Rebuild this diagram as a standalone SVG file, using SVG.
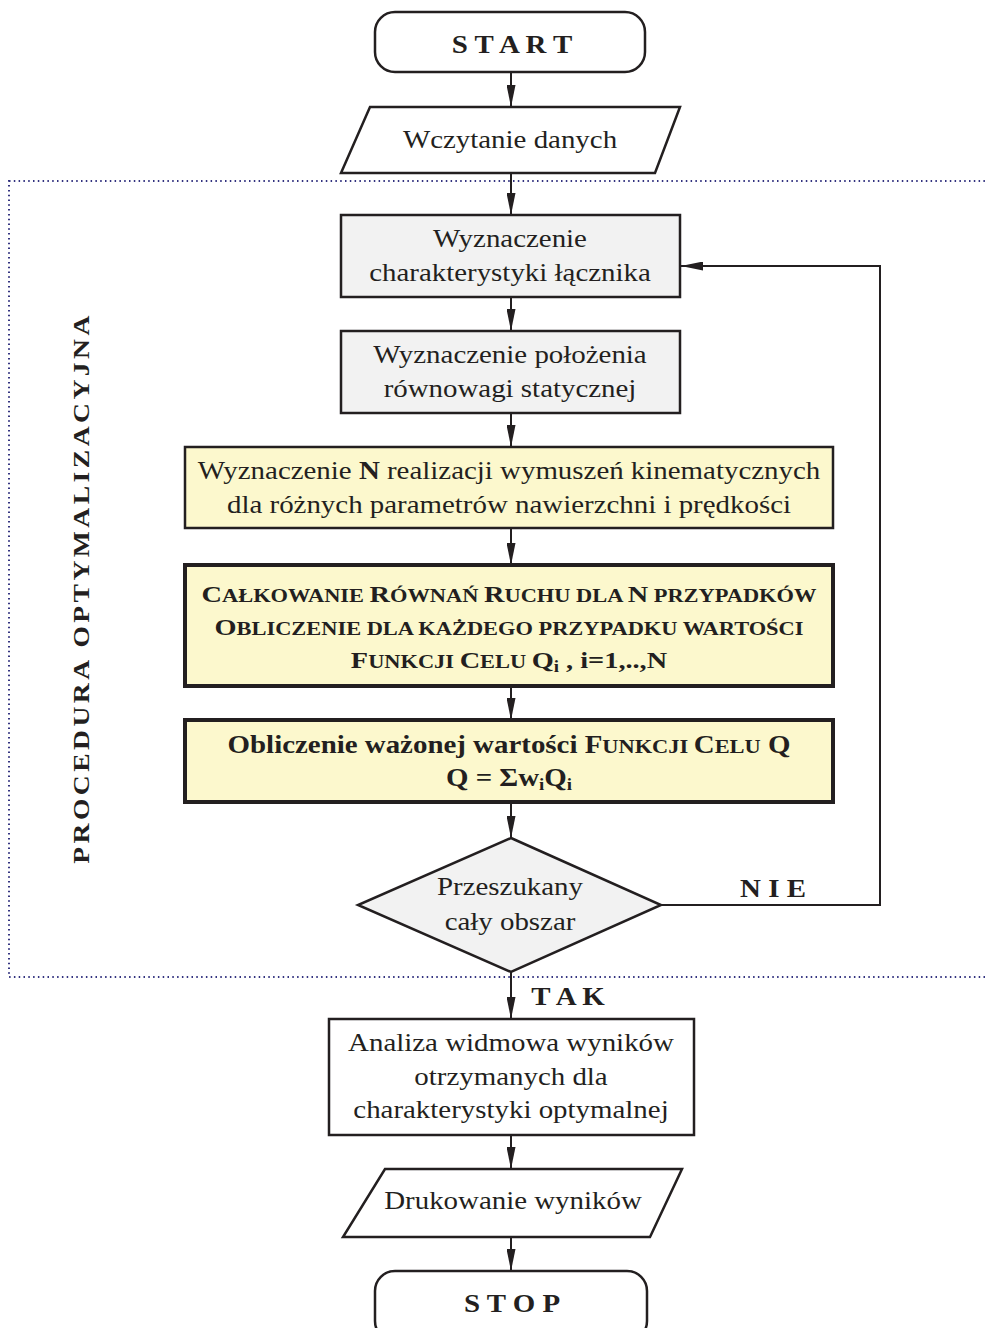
<svg xmlns="http://www.w3.org/2000/svg" width="987" height="1328" viewBox="0 0 987 1328">
<style>
text{font-family:"Liberation Serif","Times New Roman",serif;fill:#231f20;text-anchor:middle}
.t{font-size:24.5px}
.b{font-weight:bold}
.B{font-size:24px}
.s{font-size:19px}
.n{stroke:#231f20;stroke-width:2.5;fill:#fff}
.g{fill:#f2f2f2}
.y{fill:#fcf8cd}
.k{stroke-width:4}
.c{stroke:#231f20;stroke-width:2;fill:none}
</style>
<defs>
<marker id="a" viewBox="0 0 22 9" refX="22" refY="4.5" markerWidth="22" markerHeight="9" markerUnits="userSpaceOnUse" orient="auto"><path d="M0,0 L22,4.5 L0,9 Z" fill="#231f20"/></marker>
</defs>
<rect x="9" y="181" width="990" height="796" fill="none" stroke="#333380" stroke-width="2" stroke-dasharray="1.5 3.3"/>
<text class="b" font-size="24" letter-spacing="3" transform="translate(89,588) rotate(-90) scale(1.15,1)">PROCEDURA  OPTYMALIZACYJNA</text>
<g id="connectors">
<path class="c" d="M511,72 V107" marker-end="url(#a)"/>
<path class="c" d="M511,173 V215" marker-end="url(#a)"/>
<path class="c" d="M511,297 V331" marker-end="url(#a)"/>
<path class="c" d="M511,413 V447" marker-end="url(#a)"/>
<path class="c" d="M511,528 V565" marker-end="url(#a)"/>
<path class="c" d="M511,686 V720" marker-end="url(#a)"/>
<path class="c" d="M511,802 V838" marker-end="url(#a)"/>
<path class="c" d="M661,905 H880 V266 H681" marker-end="url(#a)"/>
<path class="c" d="M511,972 V1019" marker-end="url(#a)"/>
<path class="c" d="M511,1135 V1169" marker-end="url(#a)"/>
<path class="c" d="M511,1237 V1271" marker-end="url(#a)"/>
<text class="t b" transform="matrix(1.18 0 0 1 773 897)">N I E</text>
<text class="t b" transform="matrix(1.18 0 0 1 568 1005)">T A K</text>
</g>
<g id="start">
<rect class="n" x="375" y="12" width="270" height="60" rx="20"/>
<text class="t b" transform="matrix(1.18 0 0 1 512 53)">S T A R T</text>
</g>
<g id="input">
<path class="n" d="M370,107 H680 L655,173 H341 Z"/>
<text class="t" transform="matrix(1.18 0 0 1 510 148)">Wczytanie danych</text>
</g>
<g id="char">
<rect class="n g" x="341" y="215" width="339" height="82"/>
<text class="t" transform="matrix(1.18 0 0 1 510 247)">Wyznaczenie</text>
<text class="t" transform="matrix(1.18 0 0 1 510 281)">charakterystyki łącznika</text>
</g>
<g id="equil">
<rect class="n g" x="341" y="331" width="339" height="82"/>
<text class="t" transform="matrix(1.18 0 0 1 510 363)">Wyznaczenie położenia</text>
<text class="t" transform="matrix(1.18 0 0 1 510 397)">równowagi statycznej</text>
</g>
<g id="excite">
<rect class="n y" x="185" y="447" width="648" height="81"/>
<text class="t" transform="matrix(1.18 0 0 1 509 479)">Wyznaczenie <tspan class="b">N</tspan> realizacji wymuszeń kinematycznych</text>
<text class="t" transform="matrix(1.18 0 0 1 509 513)">dla różnych parametrów nawierzchni i prędkości</text>
</g>
<g id="integ">
<rect class="n y k" x="185" y="565" width="648" height="121"/>
<text class="b" transform="matrix(1.18 0 0 1 509 602)"><tspan class="B">C</tspan><tspan class="s">AŁKOWANIE </tspan><tspan class="B">R</tspan><tspan class="s">ÓWNAŃ </tspan><tspan class="B">R</tspan><tspan class="s">UCHU DLA </tspan><tspan class="B">N</tspan><tspan class="s"> PRZYPADKÓW</tspan></text>
<text class="b" transform="matrix(1.18 0 0 1 509 635)"><tspan class="B">O</tspan><tspan class="s">BLICZENIE DLA KAŻDEGO PRZYPADKU WARTOŚCI</tspan></text>
<text class="b" transform="matrix(1.18 0 0 1 509 668)"><tspan class="B">F</tspan><tspan class="s">UNKCJI </tspan><tspan class="B">C</tspan><tspan class="s">ELU </tspan><tspan class="B">Q</tspan><tspan font-size="16" dy="4">i</tspan><tspan class="B" dy="-4"> , i=1,..,N</tspan></text>
</g>
<g id="weighted">
<rect class="n y k" x="185" y="720" width="648" height="82"/>
<text class="b t" transform="matrix(1.18 0 0 1 509 753)">Obliczenie ważonej wartości F<tspan class="s">UNKCJI </tspan>C<tspan class="s">ELU</tspan> Q</text>
<text class="b t" transform="matrix(1.18 0 0 1 509 786)">Q = Σw<tspan font-size="16" dy="4">i</tspan><tspan dy="-4">Q</tspan><tspan font-size="16" dy="4">i</tspan></text>
</g>
<g id="decision">
<path class="n g" d="M511,838 L661,905 L511,972 L358,905 Z" stroke-width="3"/>
<text class="t" transform="matrix(1.18 0 0 1 510 895)">Przeszukany</text>
<text class="t" transform="matrix(1.18 0 0 1 510 930)">cały obszar</text>
</g>
<g id="analysis">
<rect class="n" x="329" y="1019" width="365" height="116"/>
<text class="t" transform="matrix(1.18 0 0 1 511 1051)">Analiza widmowa wyników</text>
<text class="t" transform="matrix(1.18 0 0 1 511 1085)">otrzymanych dla</text>
<text class="t" transform="matrix(1.18 0 0 1 511 1118)">charakterystyki optymalnej</text>
</g>
<g id="output">
<path class="n" d="M385,1169 H682 L650,1237 H343 Z"/>
<text class="t" transform="matrix(1.18 0 0 1 513 1209)">Drukowanie wyników</text>
</g>
<g id="stop">
<rect class="n" x="375" y="1271" width="272" height="70" rx="20"/>
<text class="t b" transform="matrix(1.18 0 0 1 512 1312)">S T O P</text>
</g>
</svg>
